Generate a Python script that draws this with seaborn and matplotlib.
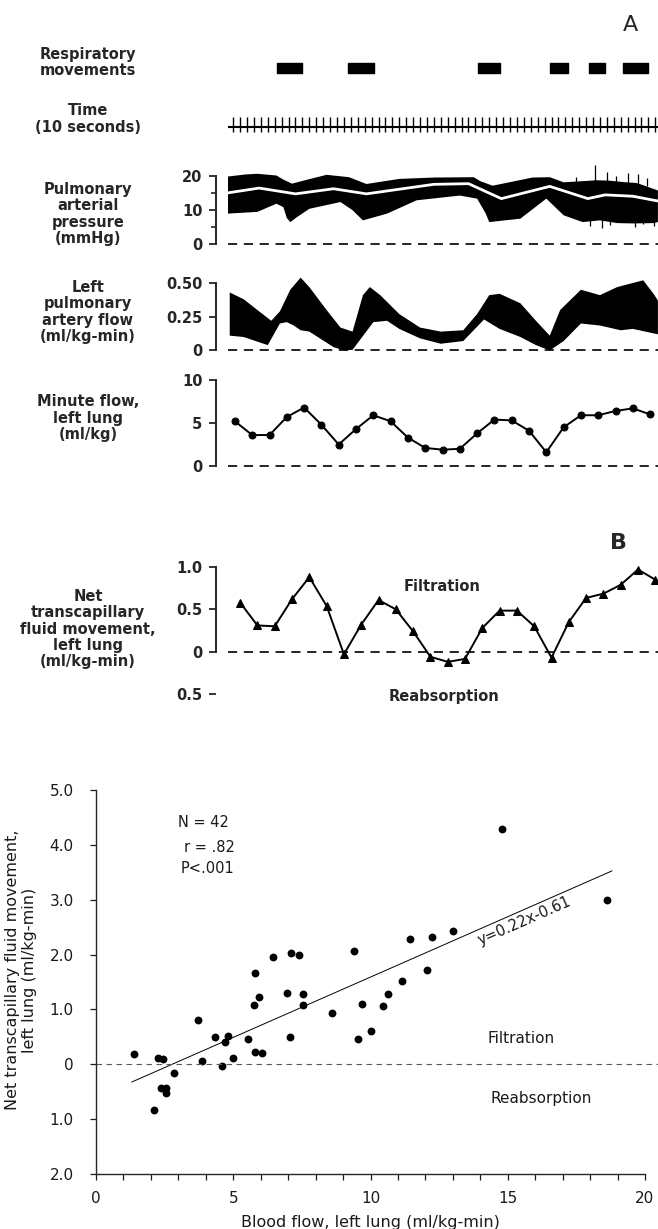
import numpy as np
import pandas as pd
import matplotlib.pyplot as plt
import seaborn as sns

# --- Panel A : respiratory movements (start, duration) in minutes
resp_start = [2.82, 6.94, 14.45, 18.61, 20.87, 22.83]
resp_len = [1.44, 1.50, 1.27, 1.04, 0.92, 1.45]

# time marks (10 s)
time_first, time_last, time_step = 0.3, 24.75, 0.40

# pulmonary arterial pressure (mmHg) envelope + mean
pap_up_t = [0.0, 1.0, 1.7, 2.8, 3.2, 3.7, 4.6, 5.7, 7.0, 8.0, 9.9, 11.9, 14.2, 14.6, 15.3, 17.6,
            18.6, 19.4, 20.4, 21.3, 22.0, 23.0, 23.6, 23.8, 24.85]
pap_up_v = [19.7, 20.3, 20.5, 20.0, 18.8, 17.6, 18.8, 20.2, 19.5, 17.5, 19.0, 19.4, 19.5, 18.3, 17.0, 19.4,
            19.5, 18.0, 18.3, 18.6, 18.5, 18.0, 17.8, 17.5, 15.6]
pap_lo_t = [0.0, 1.7, 2.8, 3.2, 3.4, 3.6, 4.0, 4.7, 6.5, 7.2, 7.8, 9.2, 10.9, 13.4, 14.4, 14.9, 15.1,
            16.9, 18.4, 19.4, 20.5, 21.5, 22.5, 23.4, 24.6, 24.85]
pap_lo_v = [8.8, 9.3, 11.7, 10.7, 7.5, 6.3, 7.8, 10.2, 12.2, 9.8, 6.8, 8.8, 12.7, 14.1, 13.2, 8.8, 6.3,
            7.3, 13.2, 8.3, 6.3, 6.8, 6.0, 5.9, 6.0, 6.3]
pap_spike_up_t = [20.1, 21.2, 21.9, 22.4, 23.1, 23.7, 24.2]
pap_spike_up_v = [19.6, 23.2, 21.0, 20.0, 20.6, 20.4, 19.2]
pap_spike_lo_t = [20.9, 21.6, 22.1, 23.5, 24.0, 24.6]
pap_spike_lo_v = [5.2, 4.5, 5.5, 4.8, 5.6, 5.2]
pap_mean_t = [0.0, 1.8, 3.9, 6.1, 8.0, 11.9, 13.9, 15.8, 18.6, 20.8, 21.8, 23.4, 24.85]
pap_mean_v = [14.9, 16.3, 14.6, 16.1, 14.6, 17.4, 17.6, 13.2, 16.8, 13.2, 14.3, 13.9, 12.5]

# left pulmonary artery flow envelope
lpa_up_t = [0.1, 0.9, 2.2, 2.5, 3.0, 3.6, 4.2, 4.7, 5.7, 6.5, 7.2, 7.8, 8.2, 8.8, 9.9, 11.1, 12.3, 13.6,
            14.4, 15.1, 15.7, 16.9, 17.8, 18.6, 19.2, 20.4, 21.5, 22.5, 23.4, 24.0, 24.6, 24.85]
lpa_up_v = [0.43, 0.38, 0.25, 0.22, 0.29, 0.45, 0.54, 0.47, 0.30, 0.17, 0.14, 0.41, 0.47, 0.41, 0.27, 0.17,
            0.14, 0.15, 0.27, 0.41, 0.42, 0.35, 0.22, 0.11, 0.30, 0.45, 0.41, 0.47, 0.50, 0.52, 0.42, 0.37]
lpa_lo_t = [0.1, 0.9, 2.3, 3.0, 3.4, 3.8, 4.2, 4.7, 6.1, 6.7, 7.2, 8.4, 9.2, 9.9, 11.1, 12.3, 13.6, 14.8,
            15.7, 16.9, 17.8, 18.6, 19.4, 20.4, 21.5, 22.7, 23.4, 24.85]
lpa_lo_v = [0.11, 0.10, 0.04, 0.20, 0.21, 0.185, 0.15, 0.14, 0.025, 0.0, 0.005, 0.21, 0.22, 0.16, 0.09, 0.05,
            0.07, 0.23, 0.16, 0.10, 0.04, 0.0, 0.07, 0.20, 0.185, 0.15, 0.16, 0.12]

# minute flow, left lung (ml/kg) and net transcapillary fluid movement (ml/kg-min)
minute = list(range(25))
minute_flow = [5.2, 3.6, 3.6, 5.7, 6.8, 4.8, 2.5, 4.3, 5.9, 5.2, 3.3, 2.1, 1.9, 2.0, 3.8, 5.4, 5.3,
               4.1, 1.6, 4.5, 5.9, 5.9, 6.4, 6.7, 6.0]
net_fluid = [0.58, 0.31, 0.30, 0.62, 0.88, 0.54, -0.03, 0.32, 0.61, 0.50, 0.24, -0.06, -0.12, -0.085,
             0.28, 0.485, 0.485, 0.30, -0.07, 0.35, 0.635, 0.685, 0.79, 0.97, 0.85]

# --- scatter : blood flow vs net transcapillary fluid movement
blood_flow = [1.4, 2.25, 2.45, 2.85, 2.35, 2.55, 2.55, 2.1, 3.7, 3.85, 4.35, 4.8, 4.7, 4.6, 5.0, 5.55,
              5.75, 5.8, 6.05, 7.05, 7.55, 8.6, 9.55, 9.7, 10.0, 10.45, 14.8, 18.6, 13.0, 12.25, 11.45,
              9.4, 7.1, 7.4, 6.45, 5.8, 12.05, 11.15, 10.65, 6.95, 7.55, 5.95]
net_move = [0.19, 0.12, 0.09, -0.15, -0.43, -0.44, -0.52, -0.84, 0.81, 0.06, 0.50, 0.51, 0.40, -0.04,
            0.11, 0.46, 1.08, 0.22, 0.21, 0.50, 1.08, 0.94, 0.47, 1.09, 0.60, 1.07, 4.28, 3.00, 2.43,
            2.32, 2.29, 2.06, 2.03, 1.99, 1.95, 1.66, 1.72, 1.51, 1.28, 1.30, 1.28, 1.22]
fit_x = np.array([1.3, 18.8])
slope, intercept = 0.22, -0.61

sns.set_style('ticks')
plt.rcParams['font.family'] = ['DejaVu Sans']

W, H = 658, 1229
fig = plt.figure(figsize=(W / 100, H / 100), dpi=100)

def axes_px(left, top, right, bottom):
    ax = fig.add_axes([left / W, 1 - bottom / H, (right - left) / W, (bottom - top) / H])
    ax.patch.set_alpha(0)
    return ax

# time axis mapping: t=0 at x=228px, 17.3 px per minute
XL, XR = (216 - 228) / 17.3, (658 - 228) / 17.3

def trace_axes(y_lo, lo, y_hi, hi, ylo, yhi, ticks, labels, minor=None):
    s = (y_lo - y_hi) / (hi - lo)
    ax = axes_px(216, y_lo - (yhi - lo) * s, 658, y_lo + (lo - ylo) * s)
    ax.set_xlim(XL, XR)
    ax.set_ylim(ylo, yhi)
    for side in ['top', 'right', 'bottom']:
        ax.spines[side].set_visible(False)
    ax.spines['left'].set_bounds(lo, hi)
    ax.spines['left'].set_linewidth(1.4)
    ax.set_xticks([])
    ax.set_yticks(ticks)
    ax.set_yticklabels(labels, fontsize=10.5, fontweight='bold')
    if minor:
        ax.set_yticks(minor, minor=True)
        ax.tick_params(axis='y', which='minor', length=3.5, width=1.2)
    ax.tick_params(axis='y', which='major', length=4.8, width=1.3, pad=5)
    ax.hlines(0, 0, XR, colors='k', lw=1.2, linestyles=(0, (5.5, 4)))
    return ax

def left_label(y, txt):
    fig.text(88 / W, 1 - y / H, txt, ha='center', va='center', fontsize=10.5,
             fontweight='bold', linespacing=1.12)

# respiratory movements
ax_r = axes_px(216, 58, 658, 78)
ax_r.set_xlim(XL, XR)
ax_r.set_ylim(0, 20)
ax_r.broken_barh(list(zip(resp_start, resp_len)), (5, 10), color='k')
ax_r.axis('off')
left_label(62.5, 'Respiratory\nmovements')

# time marks
ax_t = axes_px(216, 112, 658, 137)
ax_t.set_xlim(XL, XR)
ax_t.set_ylim(0, 25)
ax_t.hlines(10, 0, XR, colors='k', lw=1.5)
ax_t.vlines(np.arange(time_first, time_last, time_step), 5, 20, colors='k', lw=1.0)
ax_t.axis('off')
left_label(119, 'Time\n(10 seconds)')

# pulmonary arterial pressure
ax_p = trace_axes(243.5, 0, 175.5, 20, -1, 24, [0, 10, 20], ['0', '10', '20'], minor=[5, 15])
ax_p.fill(np.r_[pap_up_t, pap_lo_t[::-1]], np.r_[pap_up_v, pap_lo_v[::-1]], color='k', lw=0)
ax_p.vlines(pap_spike_up_t, 17, pap_spike_up_v, colors='k', lw=0.9)
ax_p.vlines(pap_spike_lo_t, pap_spike_lo_v, 8, colors='k', lw=0.9)
sns.lineplot(x=pap_mean_t, y=pap_mean_v, ax=ax_p, color='white', lw=2.0, sort=False)
left_label(214, 'Pulmonary\narterial\npressure\n(mmHg)')

# left pulmonary artery flow
ax_f = trace_axes(350.5, 0, 283, 0.5, -0.02, 0.56, [0, 0.25, 0.5], ['0', '0.25', '0.50'])
ax_f.fill(np.r_[lpa_up_t, lpa_lo_t[::-1]], np.r_[lpa_up_v, lpa_lo_v[::-1]], color='k', lw=0)
left_label(312, 'Left\npulmonary\nartery flow\n(ml/kg-min)')

# minute flow
ax_m = trace_axes(466, 0, 380, 10, -0.5, 10.5, [0, 5, 10], ['0', '5', '10'])
sns.lineplot(x=np.array(minute) + 0.4, y=minute_flow, ax=ax_m, color='k', lw=1.4,
             marker='o', markersize=5, markeredgecolor='k')
left_label(418, 'Minute flow,\nleft lung\n(ml/kg)')

fig.text(630 / W, 1 - 25 / H, 'A', ha='center', va='center', fontsize=16)

# panel B
ax_b = trace_axes(651.7, 0, 567, 1.0, -0.55, 1.05, [-0.5, 0, 0.5, 1.0], ['0.5', '0', '0.5', '1.0'])
sns.lineplot(x=np.array(minute) + 0.7, y=net_fluid, ax=ax_b, color='k', lw=1.4,
             marker='^', markersize=5.5, markeredgecolor='k')
ax_b.text((442 - 228) / 17.3, 0.77, 'Filtration', ha='center', va='center', fontsize=10.5, fontweight='bold')
ax_b.text((444 - 228) / 17.3, -0.53, 'Reabsorption', ha='center', va='center', fontsize=10.5, fontweight='bold')
left_label(629, 'Net\ntranscapillary\nfluid movement,\nleft lung\n(ml/kg-min)')
fig.text(619 / W, 1 - 543 / H, 'B', ha='center', va='center', fontsize=16, fontweight='bold')

# scatter
axs = axes_px(96, 790, 645, 1174)
df = pd.DataFrame({'blood_flow': blood_flow, 'net_move': net_move})
sns.scatterplot(data=df, x='blood_flow', y='net_move', ax=axs, color='k', s=32, linewidth=0)
axs.plot(fit_x, slope * fit_x + intercept, color='k', lw=0.7)
axs.hlines(0, 0, 20.5, colors='0.35', lw=0.8, linestyles=(0, (5, 4)), clip_on=False)
axs.set_xlim(0, 20)
axs.set_ylim(-2, 5)
sns.despine(ax=axs)
axs.set_xticks([0, 5, 10, 15, 20])
axs.set_xticks(range(0, 21), minor=True)
axs.set_yticks(range(-2, 6))
axs.set_yticklabels(['2.0', '1.0', '0', '1.0', '2.0', '3.0', '4.0', '5.0'])
axs.tick_params(axis='both', which='both', length=4, width=0.9, labelsize=11, colors='0.1')
axs.tick_params(axis='y', pad=12)
axs.tick_params(axis='x', pad=8)
for sp in ['left', 'bottom']:
    axs.spines[sp].set_linewidth(1.0)
axs.set_xlabel('Blood flow, left lung (ml/kg-min)', fontsize=11.5, color='0.1', labelpad=7)
axs.set_ylabel('')
fig.text(21 / W, 1 - 970 / H, 'Net transcapillary fluid movement,\nleft lung (ml/kg-min)',
         rotation=90, ha='center', va='center', fontsize=11.5, color='0.1', linespacing=1.15)
axs.text(3.0, 4.40, 'N = 42', fontsize=10.5, va='center', color='0.1')
axs.text(3.2, 3.96, 'r = .82', fontsize=10.5, va='center', color='0.1')
axs.text(3.1, 3.56, 'P<.001', fontsize=10.5, va='center', color='0.1')
p1, p2 = axs.transData.transform([(fit_x[0], slope * fit_x[0] + intercept),
                                  (fit_x[1], slope * fit_x[1] + intercept)])
ang = np.degrees(np.arctan2(p2[1] - p1[1], p2[0] - p1[0]))
axs.text(15.6, 2.62, 'y=0.22x-0.61', rotation=ang, rotation_mode='anchor',
         ha='center', va='center', fontsize=10.5, color='0.1')
axs.text(15.5, 0.47, 'Filtration', ha='center', va='center', fontsize=11, color='0.1')
axs.text(16.2, -0.63, 'Reabsorption', ha='center', va='center', fontsize=11, color='0.1')

fig.savefig('out.png', dpi=100)
